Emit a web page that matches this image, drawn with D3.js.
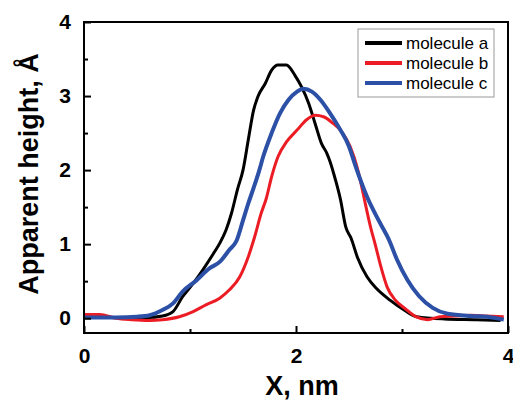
<!DOCTYPE html>
<html>
<head>
<meta charset="utf-8">
<script src="https://cdn.jsdelivr.net/npm/d3@7"></script>
<style>
  body { margin: 0; background: #fff; }
  svg { display: block; font-family: "Liberation Sans", Arial, sans-serif; }
</style>
</head>
<body>
<svg width="513" height="401"></svg>
<script>
// data (x in nm, height in Angstrom)
var xA = [0, 0.3, 0.6, 0.74, 0.84, 0.93, 1.03, 1.12, 1.22, 1.28, 1.34, 1.39, 1.45, 1.50, 1.55, 1.60, 1.64, 1.71, 1.77, 1.83, 1.91, 1.99, 2.05, 2.12, 2.18, 2.24, 2.29, 2.32, 2.37, 2.42, 2.47, 2.52, 2.58, 2.67, 2.76, 2.89, 3.02, 3.14, 3.4, 3.7, 3.93];
var yA = [0.02, 0.01, 0.01, 0.03, 0.09, 0.29, 0.47, 0.65, 0.87, 1.01, 1.19, 1.41, 1.75, 2.0, 2.41, 2.81, 2.99, 3.17, 3.35, 3.42, 3.42, 3.28, 3.13, 2.90, 2.63, 2.36, 2.23, 2.12, 1.88, 1.60, 1.23, 1.08, 0.82, 0.56, 0.40, 0.24, 0.11, 0.02, -0.01, -0.02, -0.03];

var xB = [0, 0.15, 0.3, 0.45, 0.62, 0.74, 0.90, 1.03, 1.15, 1.28, 1.37, 1.47, 1.55, 1.61, 1.67, 1.72, 1.77, 1.83, 1.91, 2.01, 2.10, 2.18, 2.26, 2.35, 2.43, 2.51, 2.58, 2.61, 2.64, 2.70, 2.75, 2.80, 2.86, 2.94, 3.03, 3.13, 3.24, 3.36, 3.5, 3.65, 3.8, 3.96];
var yB = [0.05, 0.05, 0.0, -0.02, -0.03, -0.02, 0.02, 0.09, 0.18, 0.27, 0.38, 0.56, 0.83, 1.10, 1.41, 1.62, 1.91, 2.18, 2.38, 2.54, 2.68, 2.74, 2.72, 2.63, 2.52, 2.32, 2.02, 1.84, 1.64, 1.25, 0.98, 0.70, 0.42, 0.24, 0.13, 0.02, -0.02, 0.02, 0.03, 0.04, 0.03, 0.02];

var xC = [0, 0.3, 0.5, 0.62, 0.74, 0.84, 0.93, 1.06, 1.18, 1.28, 1.37, 1.44, 1.50, 1.55, 1.60, 1.65, 1.69, 1.77, 1.85, 1.93, 2.01, 2.07, 2.15, 2.23, 2.32, 2.42, 2.50, 2.56, 2.67, 2.78, 2.88, 2.95, 3.05, 3.16, 3.29, 3.43, 3.65, 3.8, 3.96];
var yC = [0.01, 0.01, 0.02, 0.04, 0.11, 0.20, 0.36, 0.51, 0.67, 0.76, 0.92, 1.05, 1.32, 1.55, 1.76, 1.98, 2.18, 2.50, 2.77, 2.95, 3.06, 3.10, 3.06, 2.95, 2.77, 2.54, 2.32, 2.06, 1.64, 1.32, 1.05, 0.80, 0.52, 0.30, 0.14, 0.06, 0.03, 0.02, -0.02];

var seriesNames = ['molecule a', 'molecule b', 'molecule c'];
var seriesColors = ['#000000', '#ec1c24', '#2b50a6'];
var seriesWidths = [3, 3, 4];
var xTicks = [0, 2, 4];
var xMinor = [1, 3];
var yTicks = [0, 1, 2, 3, 4];
var yMinor = [0.5, 1.5, 2.5, 3.5];

var plotLeft = 84, plotRight = 508, plotTop = 22, plotBottom = 333;

var svg = d3.select('svg');
var x = d3.scaleLinear().domain([0, 4]).range([plotLeft, plotRight]);
var y = d3.scaleLinear().domain([-0.2, 4]).range([plotBottom, plotTop]);

var series = [[xA, yA], [xB, yB], [xC, yC]].map(function(s){
  return s[0].map(function(v, i){ return { x: v, y: s[1][i] }; });
});

//curves
var line = d3.line()
  .curve(d3.curveMonotoneX)
  .x(function(d){ return x(d.x); })
  .y(function(d){ return y(d.y); });
var plot = svg.append('g');
plot.append('clipPath').attr('id', 'clip').append('rect')
  .attr('x', plotLeft).attr('y', plotTop).attr('width', plotRight - plotLeft).attr('height', plotBottom - plotTop);
plot.selectAll('path')
  .data(series)
  .enter().append('path')
  .attr('d', line)
  .attr('clip-path', 'url(#clip)')
  .attr('fill', 'none')
  .attr('stroke', function(d, i){ return seriesColors[i]; })
  .attr('stroke-width', function(d, i){ return seriesWidths[i]; })
  .attr('stroke-linejoin', 'round');

//axes, ticks pointing in
var xAxis = svg.append('g').attr('transform', 'translate(0,' + plotBottom + ')')
  .call(d3.axisBottom(x).tickValues(xTicks).tickSizeInner(-7).tickSizeOuter(0).tickPadding(15).tickFormat(d3.format('d')));
var xAxisMinor = svg.append('g').attr('transform', 'translate(0,' + plotBottom + ')')
  .call(d3.axisBottom(x).tickValues(xMinor).tickSizeInner(-4).tickSizeOuter(0).tickFormat(''));
var yAxis = svg.append('g').attr('transform', 'translate(' + plotLeft + ',0)')
  .call(d3.axisLeft(y).tickValues(yTicks).tickSizeInner(-7).tickSizeOuter(0).tickPadding(13).tickFormat(d3.format('d')));
var yAxisMinor = svg.append('g').attr('transform', 'translate(' + plotLeft + ',0)')
  .call(d3.axisLeft(y).tickValues(yMinor).tickSizeInner(-4).tickSizeOuter(0).tickFormat(''));

[xAxis, xAxisMinor, yAxis, yAxisMinor].forEach(function(g){
  g.select('.domain').remove();
  g.selectAll('line').attr('stroke', '#000').attr('stroke-width', 2);
  g.selectAll('text').attr('fill', '#000').style('font-size', '21px').style('font-weight', 'bold')
    .style('font-family', '"Liberation Sans", Arial, sans-serif');
});

//frame
svg.append('rect')
  .attr('x', plotLeft).attr('y', plotTop).attr('width', plotRight - plotLeft).attr('height', plotBottom - plotTop)
  .attr('fill', 'none').attr('stroke', '#000').attr('stroke-width', 2);

//axis titles
svg.append('text')
  .attr('x', 302).attr('y', 395)
  .attr('text-anchor', 'middle')
  .style('font-size', '27px').style('font-weight', 'bold')
  .text('X, nm');
svg.append('text')
  .attr('transform', 'translate(38,174) rotate(-90)')
  .attr('text-anchor', 'middle')
  .style('font-size', '27px').style('font-weight', 'bold')
  .text('Apparent height, Å');

//legend
var legend = svg.append('g');
legend.append('rect')
  .attr('x', 358).attr('y', 29).attr('width', 136).attr('height', 68)
  .attr('fill', '#fff').attr('stroke', '#999').attr('stroke-width', 1);
var rows = legend.selectAll('g.row')
  .data(seriesNames)
  .enter().append('g')
  .attr('class', 'row')
  .attr('transform', function(d, i){ return 'translate(0,' + (43 + i * 20) + ')'; });
rows.append('line')
  .attr('x1', 365).attr('x2', 402).attr('y1', 0).attr('y2', 0)
  .attr('stroke', function(d, i){ return seriesColors[i]; })
  .attr('stroke-width', 4);
rows.append('text')
  .attr('x', 406).attr('y', 6)
  .style('font-size', '17px')
  .text(function(d){ return d; });
</script>
</body>
</html>
